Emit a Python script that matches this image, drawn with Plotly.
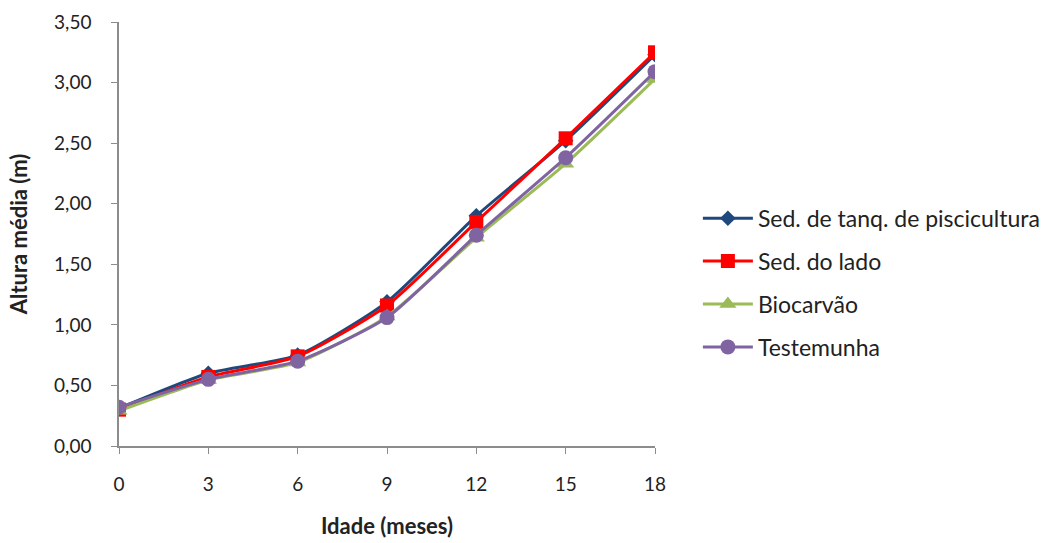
import plotly.graph_objects as go

# Age (months) and mean height (m) per treatment
idade = [0, 3, 6, 9, 12, 15, 18]
tick_labels = ["0", "3", "6", "9", "12", "15", "18"]

sed_tanque = [0.31, 0.60, 0.75, 1.19, 1.90, 2.52, 3.23]
sed_lado = [0.30, 0.57, 0.74, 1.16, 1.85, 2.54, 3.25]
biocarvao = [0.29, 0.545, 0.69, 1.07, 1.72, 2.33, 3.03]
testemunha = [0.32, 0.55, 0.70, 1.06, 1.74, 2.38, 3.09]

series = [
    ("Sed. de tanq. de piscicultura", sed_tanque, "#1F497D", "diamond", 12),
    ("Sed. do lado", sed_lado, "#FF0000", "square", 14),
    ("Biocarvão", biocarvao, "#9BBB59", "triangle-up", 15),
    ("Testemunha", testemunha, "#8064A2", "circle", 15),
]

FONT = "Lato, 'Open Sans', sans-serif"

fig = go.Figure()
for i, (name, vals, color, symbol, size) in enumerate(series):
    fig.add_trace(go.Scatter(
        x=idade, y=vals, name=name, mode="lines+markers",
        line=dict(color=color, width=3, shape="spline", smoothing=0.6),
        marker=dict(symbol=symbol, size=size, color=color),
        legendgroup=f"g{i}",
    ))

fig.update_layout(
    width=1044, height=543,
    margin=dict(l=119, r=389, t=22, b=97, autoexpand=False),
    paper_bgcolor="white", plot_bgcolor="white",
    font=dict(family=FONT, size=19, color="#222222"),
    showlegend=True,
    legend=dict(
        x=1.08, y=0.385, xanchor="left", yanchor="middle",
        font=dict(family=FONT, size=23, color="#222222"),
        tracegroupgap=10, itemwidth=50,
        bgcolor="rgba(0,0,0,0)",
    ),
    xaxis=dict(
        range=[0, 18], tickmode="array", tickvals=idade, ticktext=tick_labels,
        showline=True, linecolor="#8C8C8C", linewidth=1.5,
        ticks="outside", ticklen=6, tickcolor="#8C8C8C",
        showgrid=False, zeroline=False,
        tickfont=dict(size=19, color="#222222"),
        ticklabelstandoff=14,
        title=dict(text="<b>Idade (meses)</b>", font=dict(size=22), standoff=25),
    ),
    yaxis=dict(
        range=[0, 3.5], tickvals=[0, 0.5, 1, 1.5, 2, 2.5, 3, 3.5],
        ticktext=["0,00", "0,50", "1,00", "1,50", "2,00", "2,50", "3,00", "3,50"],
        showline=True, linecolor="#8C8C8C", linewidth=1.5,
        ticks="outside", ticklen=6, tickcolor="#8C8C8C",
        showgrid=False, zeroline=False,
        tickfont=dict(size=19, color="#222222"),
        ticklabelstandoff=16,
        title=dict(text="<b>Altura média (m)</b>", font=dict(size=22), standoff=20),
    ),
)

fig.write_html("out.html")
